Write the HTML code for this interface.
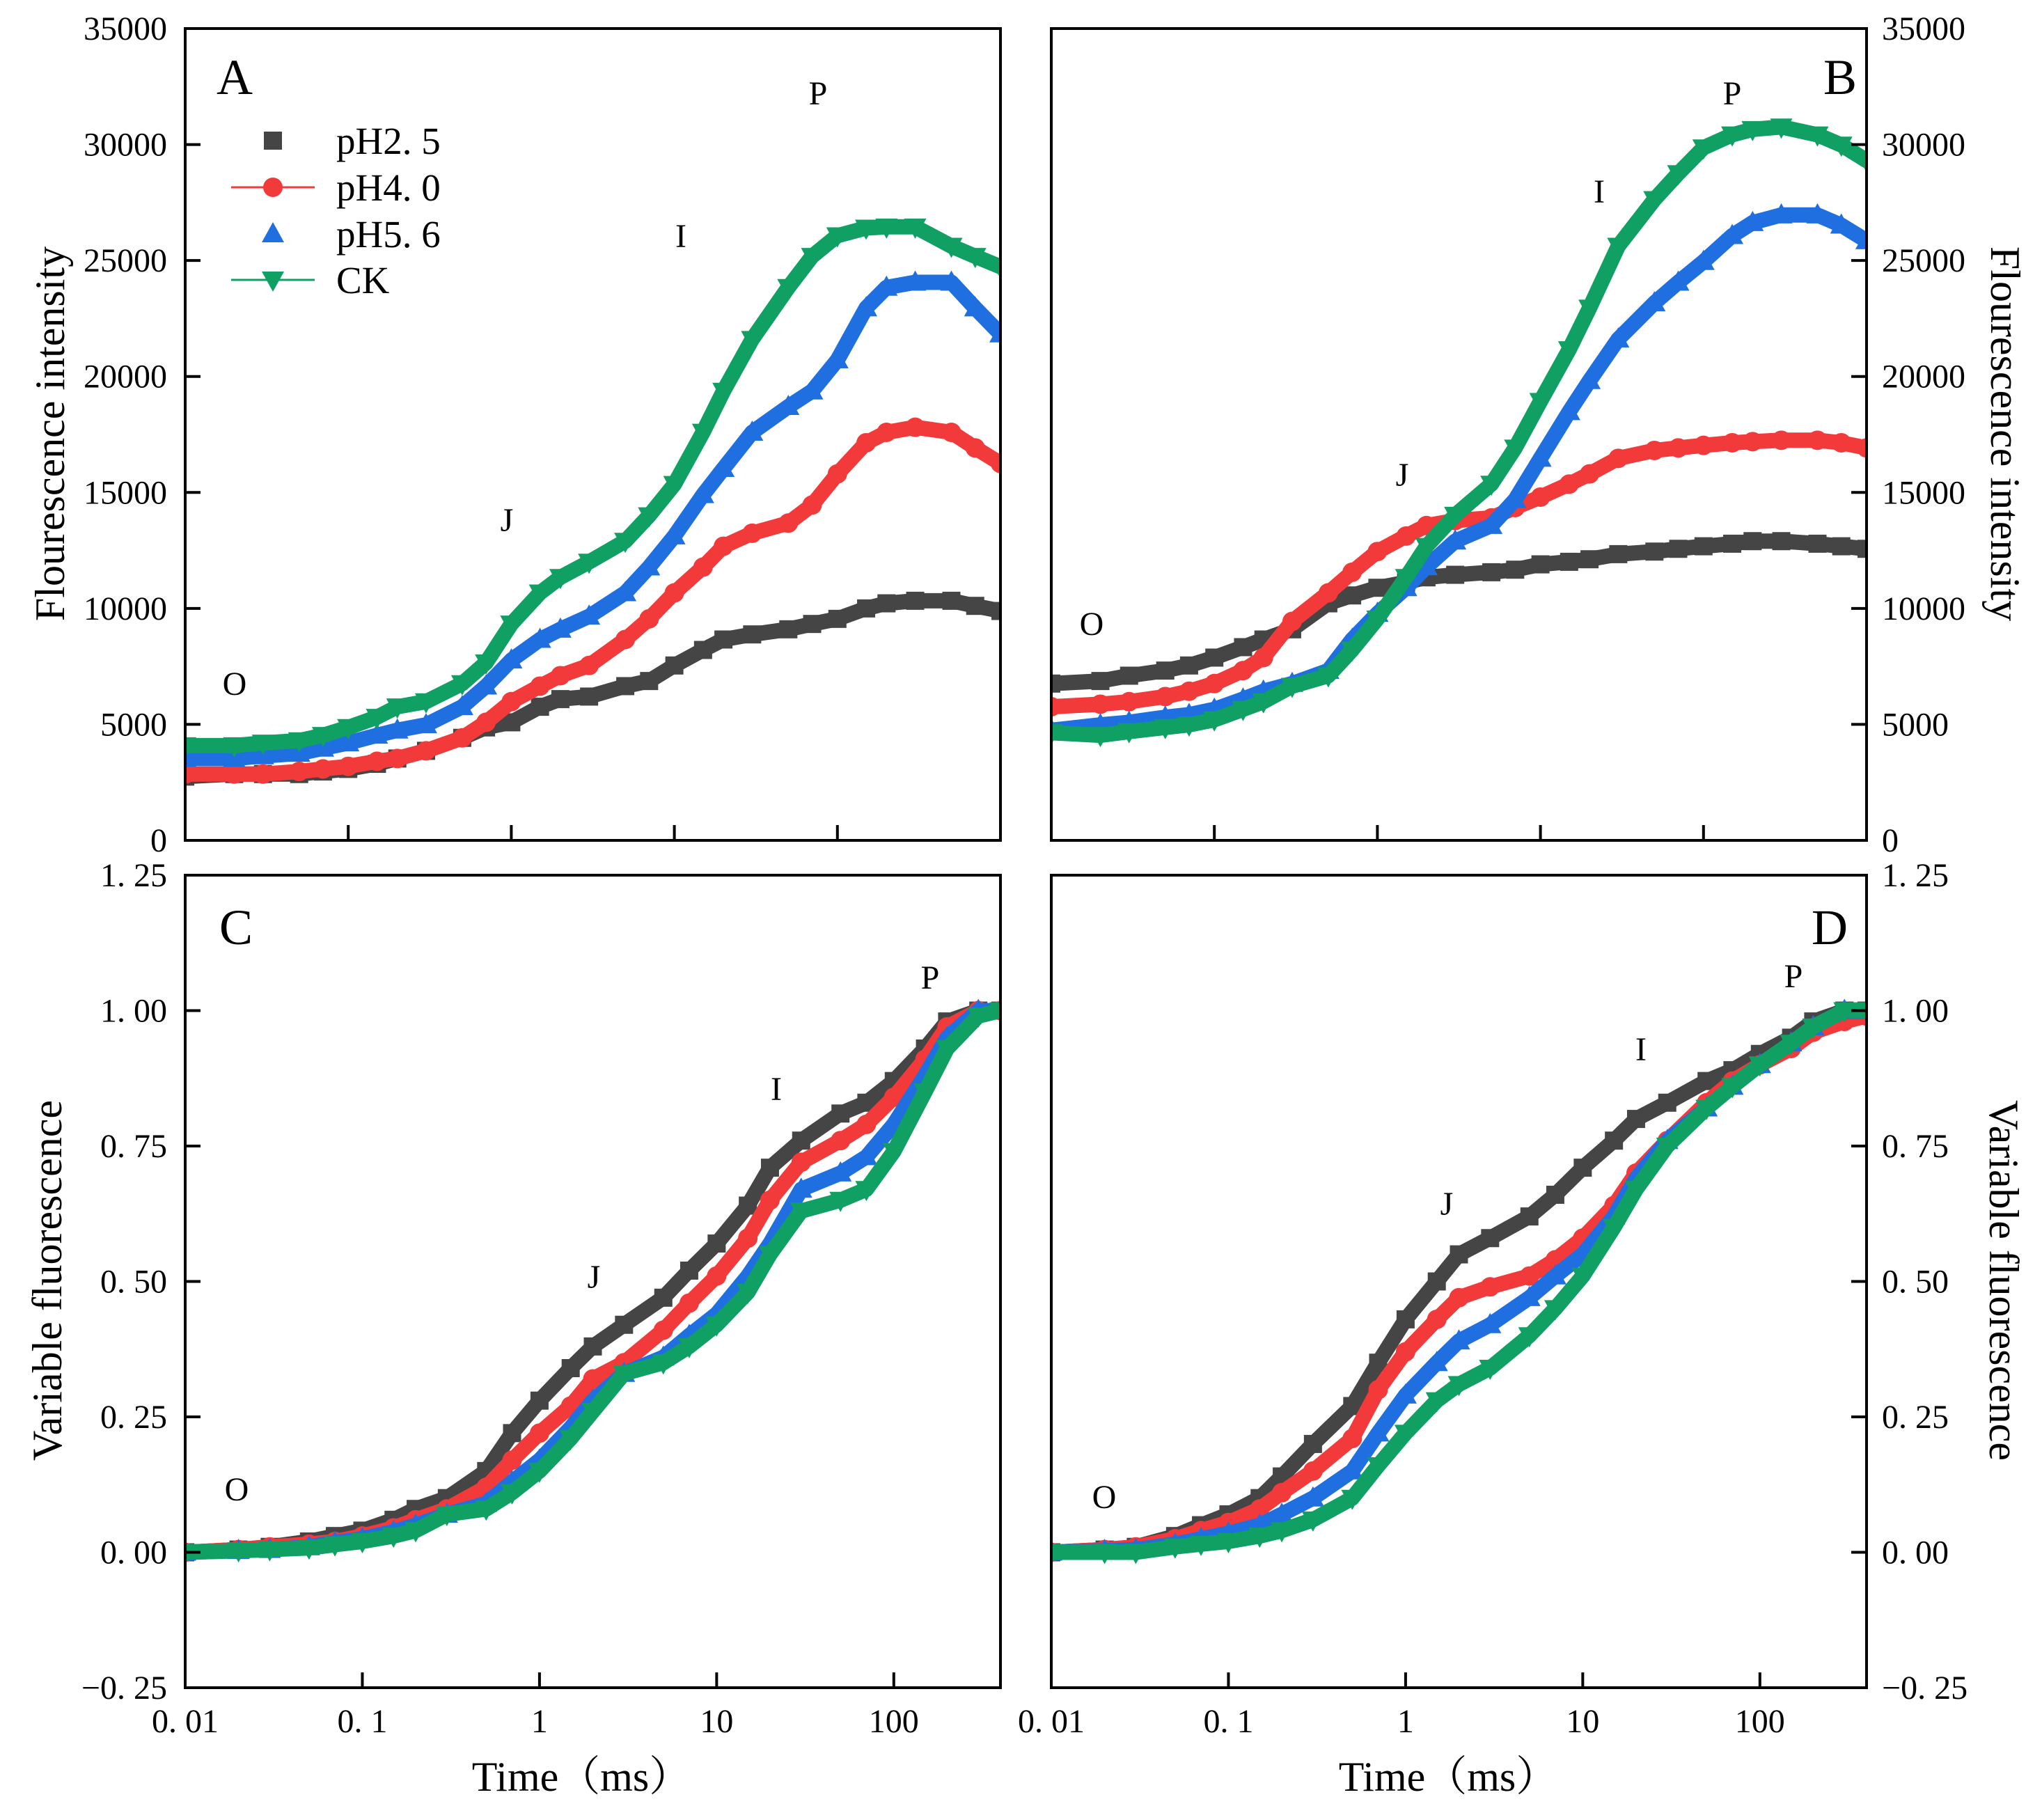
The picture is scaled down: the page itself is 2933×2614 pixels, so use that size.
<!DOCTYPE html>
<html><head><meta charset="utf-8">
<style>
html,body{margin:0;padding:0;background:#fff;}
svg{display:block;}
text{font-family:"Liberation Serif","Noto Serif CJK SC",serif;fill:#000;}
</style></head>
<body>
<svg id="fig" xmlns="http://www.w3.org/2000/svg" width="2933" height="2614" viewBox="0 0 2933 2614"></svg>
<script>
// ---- data ----
const timeTop = [0.01,0.02,0.03,0.05,0.07,0.1,0.15,0.2,0.3,0.5,0.7,1,1.5,2,3,5,7,10,15,20,30,50,70,100,150,200,300,500,700,1000];
const aPH25 = [2750,2860,2860,2860,2970,3080,3300,3530,3860,4420,4870,5090,5760,6090,6200,6650,6870,7540,8210,8660,8880,9100,9330,9550,10000,10220,10330,10330,10110,9890];
const aPH40 = [2860,2860,2860,2970,3080,3190,3410,3530,3860,4420,5090,5980,6650,7100,7540,8660,9550,10670,11780,12680,13240,13680,14460,15800,17140,17590,17810,17590,16920,16250];
const aPH56 = [3530,3530,3640,3750,3970,4200,4530,4750,4980,5760,6650,7770,8660,9100,9660,10670,11780,13120,14900,16030,17590,18700,19370,20710,22950,23840,24060,24060,22950,21830];
const aCK   = [4085,4085,4200,4300,4530,4870,5310,5760,5980,6760,7660,9330,10670,11340,12000,12900,14000,15350,17600,19370,21600,23840,25180,26070,26400,26450,26450,25620,25180,24730];
const bPH25 = [6760,6870,7100,7320,7540,7880,8330,8660,9100,10220,10560,10890,11120,11340,11450,11560,11670,11900,12010,12120,12340,12450,12570,12680,12790,12900,12900,12790,12680,12570];
const bPH40 = [5760,5870,5980,6200,6430,6760,7320,7880,9440,10670,11560,12450,13120,13570,13790,13900,14350,14800,15360,15800,16470,16810,16920,17030,17140,17190,17250,17250,17140,16920];
const bPH56 = [4750,4980,5090,5310,5420,5650,6090,6430,6760,7320,8660,9780,10890,11790,12900,13570,14690,16470,18480,19820,21610,23170,24060,24950,26070,26630,26960,26960,26520,25850];
const bCK   = [4640,4530,4690,4870,4980,5200,5650,5980,6650,7100,8210,9550,11340,12680,14020,15360,16920,18930,21160,22950,25620,27630,28750,29860,30420,30650,30760,30420,29980,29310];
const timeBot = [0.01,0.02,0.03,0.05,0.07,0.1,0.15,0.2,0.3,0.5,0.7,1,1.5,2,3,5,7,10,15,20,30,50,70,100,150,200,300,400];
const cPH25 = [0,0.005,0.01,0.02,0.03,0.04,0.06,0.08,0.1,0.15,0.22,0.28,0.34,0.38,0.42,0.47,0.52,0.57,0.64,0.71,0.76,0.81,0.83,0.87,0.93,0.98,1.0,1.0];
const cPH40 = [0,0.005,0.01,0.015,0.02,0.03,0.045,0.06,0.08,0.12,0.17,0.22,0.27,0.32,0.35,0.41,0.46,0.51,0.58,0.65,0.72,0.76,0.79,0.84,0.91,0.97,1.0,1.0];
const cPH56 = [0,0.003,0.005,0.01,0.018,0.025,0.038,0.05,0.07,0.09,0.13,0.17,0.23,0.28,0.33,0.36,0.40,0.44,0.51,0.57,0.67,0.70,0.73,0.79,0.88,0.95,1.0,1.0];
const cCK   = [0,0.003,0.005,0.008,0.014,0.02,0.03,0.04,0.07,0.08,0.11,0.15,0.21,0.26,0.33,0.35,0.38,0.42,0.48,0.55,0.63,0.65,0.67,0.74,0.85,0.93,0.99,1.0];
const dPH25 = [0,0.005,0.01,0.03,0.05,0.07,0.1,0.14,0.2,0.27,0.35,0.43,0.5,0.55,0.58,0.62,0.66,0.71,0.76,0.8,0.83,0.87,0.89,0.92,0.95,0.98,1.0,1.0];
const dPH40 = [0,0.005,0.01,0.025,0.04,0.055,0.08,0.11,0.15,0.21,0.3,0.37,0.43,0.47,0.49,0.51,0.54,0.58,0.64,0.7,0.76,0.83,0.87,0.9,0.93,0.96,0.98,0.99];
const dPH56 = [0,0.003,0.005,0.015,0.025,0.035,0.05,0.07,0.1,0.15,0.22,0.29,0.35,0.39,0.42,0.47,0.51,0.55,0.62,0.69,0.76,0.82,0.86,0.9,0.94,0.97,1.0,1.0];
const dCK   = [0,0,0,0.01,0.015,0.02,0.03,0.04,0.06,0.1,0.16,0.22,0.28,0.31,0.34,0.4,0.45,0.51,0.6,0.67,0.75,0.82,0.86,0.9,0.94,0.97,1.0,1.0];
const yTicksTop = [0,5000,10000,15000,20000,25000,30000,35000];
const yTickLabelsTop = ["0","5000","10000","15000","20000","25000","30000","35000"];
const yTicksBot = [-0.25,0,0.25,0.5,0.75,1.0,1.25];
const yTickLabelsBot = ["\u22120. 25","0. 00","0. 25","0. 50","0. 75","1. 00","1. 25"];
const xTicksBot = [0.01,0.1,1,10,100];
const xTickLabelsBot = ["0. 01","0. 1","1","10","100"];
const xTicksTop = [0.1,1,10,100];
const seriesNames = ["pH2.5","pH4.0","pH5.6","CK"];
const seriesColors = ["#454545","#f23a3a","#1f6fe0","#10a064"];
const seriesShapes = ["square","circle","up","down"];

// ---- drawing ----
const NS = "http://www.w3.org/2000/svg";
const svg = document.getElementById("fig");
function mk(tag, attrs, parent){
  const e = document.createElementNS(NS, tag);
  for (const k in attrs) e.setAttribute(k, attrs[k]);
  (parent||svg).appendChild(e);
  return e;
}
function txt(s, x, y, size, anchor, parent){
  const t = mk("text", {x:x, y:y, "font-size":size, "text-anchor":anchor||"start"}, parent);
  t.textContent = s;
  return t;
}
function marker(shape, x, y, color, g, s){
  s = s || 1;
  let e;
  if (shape==="square") e = mk("rect",{x:x-13*s,y:y-13*s,width:26*s,height:26*s,fill:color},g);
  else if (shape==="circle") e = mk("circle",{cx:x,cy:y,r:14*s,fill:color},g);
  else if (shape==="up") e = mk("polygon",{points:`${x},${y-17*s} ${x-16*s},${y+12*s} ${x+16*s},${y+12*s}`,fill:color},g);
  else e = mk("polygon",{points:`${x},${y+17*s} ${x-16*s},${y-12*s} ${x+16*s},${y-12*s}`,fill:color},g);
  return e;
}

function panel(opt){
  const {id,L,R,T,B,xmin,xmax,ymin,ymax,times,series,side,bottomLabels} = opt;
  const g = mk("g",{});
  
  
  const xs = t => L + (Math.log10(t)-Math.log10(xmin))/(Math.log10(xmax)-Math.log10(xmin))*(R-L);
  const ys = v => B - (v-ymin)/(ymax-ymin)*(B-T);
  const clip = mk("clipPath",{id:"clip"+id},g);
  mk("rect",{x:L,y:T,width:R-L,height:B-T},clip);
  const dg = mk("g",{"clip-path":`url(#clip${id})`},g);
  series.forEach((vals, si) => {
    const sg = mk("g",{},dg);
    
    
    const pts = vals.map((v,i)=>xs(times[i]).toFixed(1)+","+ys(v).toFixed(1)).join(" ");
    const line = mk("polyline",{points:pts,fill:"none",stroke:seriesColors[si],"stroke-width":22,"stroke-linejoin":"round","stroke-linecap":"round"},sg);
    
    
    vals.forEach((v,i)=>{
      const m = marker(seriesShapes[si], xs(times[i]), ys(v), seriesColors[si], sg);
      
      
    });
  });
  const fr = mk("rect",{x:L,y:T,width:R-L,height:B-T,fill:"none",stroke:"#000","stroke-width":4},g);
  
  
  const xt = bottomLabels ? xTicksBot : xTicksTop;
  xt.forEach((t)=>{
    const x = xs(t);
    const tk = mk("line",{x1:x,y1:B,x2:x,y2:B-22,stroke:"#000","stroke-width":4},g);
    
    
  });
  if (bottomLabels){
    xTicksBot.forEach((t,i)=>{
      const l = txt(xTickLabelsBot[i], xs(t), B+64, 48, "middle", g);
      
      
    });
  }
  const yt = opt.yTicks, yl = opt.yLabels;
  yt.forEach((v,i)=>{
    const y = ys(v);
    if (v!==ymin && v!==ymax){
      const x0 = side==="left" ? L : R;
      const x1 = side==="left" ? L+22 : R-22;
      const tk = mk("line",{x1:x0,y1:y,x2:x1,y2:y,stroke:"#000","stroke-width":4},g);
      
      
    }
    const l = side==="left" ? txt(yl[i], L-26, y+16, 48, "end", g) : txt(yl[i], R+22, y+16, 48, "start", g);
    
    
  });
  return {xs,ys,g};
}

const TL=266, TR=1437, BL=1510, BR=2681, TT=41, TB=1207, BT=1257, BB=2424;
panel({id:"A",L:TL,R:TR,T:TT,B:TB,xmin:0.01,xmax:1000,ymin:0,ymax:35000,times:timeTop,series:[aPH25,aPH40,aPH56,aCK],side:"left",yTicks:yTicksTop,yLabels:yTickLabelsTop,bottomLabels:false});
panel({id:"B",L:BL,R:BR,T:TT,B:TB,xmin:0.01,xmax:1000,ymin:0,ymax:35000,times:timeTop,series:[bPH25,bPH40,bPH56,bCK],side:"right",yTicks:yTicksTop,yLabels:yTickLabelsTop,bottomLabels:false});
panel({id:"C",L:TL,R:TR,T:BT,B:BB,xmin:0.01,xmax:400,ymin:-0.25,ymax:1.25,times:timeBot,series:[cPH25,cPH40,cPH56,cCK],side:"left",yTicks:yTicksBot,yLabels:yTickLabelsBot,bottomLabels:true});
panel({id:"D",L:BL,R:BR,T:BT,B:BB,xmin:0.01,xmax:400,ymin:-0.25,ymax:1.25,times:timeBot,series:[dPH25,dPH40,dPH56,dCK],side:"right",yTicks:yTicksBot,yLabels:yTickLabelsBot,bottomLabels:true});

const ann = [
 ["A",337,135,72,"panel-letter-a"],["O",337,998,48,"label-o-a"],["J",728,763,48,"label-j-a"],["I",978,355,48,"label-i-a"],["P",1175,150,48,"label-p-a"],
 ["B",2643,135,72,"panel-letter-b"],["O",1568,912,48,"label-o-b"],["J",2014,698,48,"label-j-b"],["I",2297,291,48,"label-i-b"],["P",2488,150,48,"label-p-b"],
 ["C",339,1356,72,"panel-letter-c"],["O",340,2155,48,"label-o-c"],["J",853,1850,48,"label-j-c"],["I",1115,1580,48,"label-i-c"],["P",1336,1420,48,"label-p-c"],
 ["D",2628,1356,72,"panel-letter-d"],["O",1586,2166,48,"label-o-d"],["J",2078,1745,48,"label-j-d"],["I",2357,1523,48,"label-i-d"],["P",2576,1418,48,"label-p-d"]
];
ann.forEach(a=>{
  const t = txt(a[0], a[1], a[2], a[3], "middle");
  
  
});

function rot(s, x, y, deg, name){
  const t = mk("text",{x:0,y:0,"font-size":60,"text-anchor":"middle",transform:`translate(${x},${y}) rotate(${deg})`});
  t.textContent = s;
  
  
}
rot("Flourescence intensity", 92, 623, -90, "y-axis-title-a");
rot("Flourescence intensity", 2860, 623, 90, "y-axis-title-b");
rot("Variable fluorescence", 88, 1839, -90, "y-axis-title-c");
rot("Variable fluorescence", 2858, 1839, 90, "y-axis-title-d");
const xt1 = txt("Time\uFF08ms\uFF09", 835, 2572, 60, "middle");


const xt2 = txt("Time\uFF08ms\uFF09", 2080, 2572, 60, "middle");



const lg = mk("g",{});


const legY = [202,269,336,402];
seriesNames.forEach((n,i)=>{
  const eg = mk("g",{},lg);
  
  
  if (i===1 || i===3) mk("line",{x1:332,y1:legY[i],x2:452,y2:legY[i],stroke:seriesColors[i],"stroke-width":3},eg);
  marker(seriesShapes[i], 392, legY[i], seriesColors[i], eg);
  const label = ["pH2. 5","pH4. 0","pH5. 6","CK"][i];
  txt(label, 483, legY[i]+19, 55, "start", eg);
});
</script>
</body></html>
